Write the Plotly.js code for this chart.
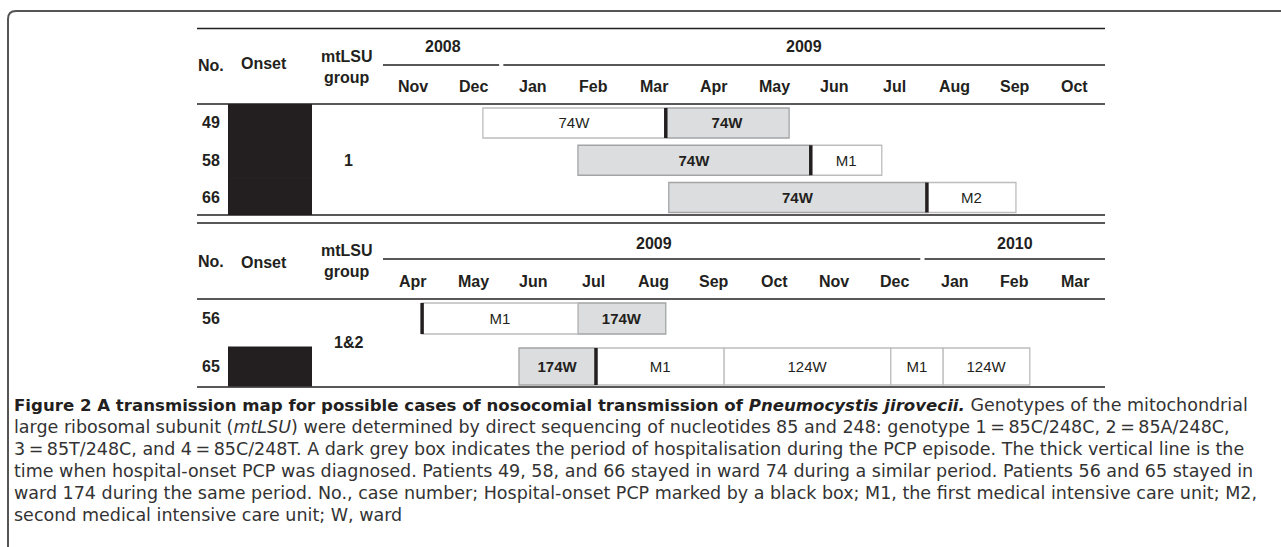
<!DOCTYPE html>
<html><head><meta charset="utf-8">
<script src="https://cdn.plot.ly/plotly-3.0.1.min.js"></script>
<style>html,body{margin:0;padding:0;background:#fff;overflow:hidden}#chart{width:1281px;height:547px}</style>
</head><body><div id="chart"></div>
<script>
// ---------- DATA ----------
// month index: 0 = Nov 2008, 1 = Dec 2008, 2 = Jan 2009, ...
const monthLabels = ['Jan','Feb','Mar','Apr','May','Jun','Jul','Aug','Sep','Oct','Nov','Dec'];
const table1Window = [0, 12];   // Nov 2008 - Oct 2009
const table2Window = [5, 17];   // Apr 2009 - Mar 2010

const table1Cases = ['49', '58', '66'];
const table1Onset = [true, true, true];
const table1Group = '1';
const table2Cases = ['56', '65'];
const table2Onset = [false, true];
const table2Group = '1&2';

const stayCase  = ['49', '49', '58', '58', '66', '66', '56', '56', '65', '65', '65', '65', '65'];
const stayStart = [1.66, 4.70, 3.24, 7.11, 4.75, 9.04, 5.65, 8.24, 7.26, 8.54, 10.67, 13.44, 14.31];
const stayEnd   = [4.70, 6.75, 7.11, 8.29, 9.04, 10.52, 8.24, 9.70, 8.54, 10.67, 13.44, 14.31, 15.75];
const stayLabel = ['74W', '74W', '74W', 'M1', '74W', 'M2', 'M1', '174W', '174W', 'M1', '124W', 'M1', '124W'];
const stayPcp   = [false, true, true, false, true, false, false, true, true, false, false, false, false];

const diagCase  = ['49', '58', '66', '56', '65'];
const diagMonth = [4.70, 7.11, 9.04, 5.65, 8.54];

const captionTitle = 'Figure 2 A transmission map for possible cases of nosocomial transmission of <i>Pneumocystis jirovecii.</i>';
const captionLines = [
  ' Genotypes of the mitochondrial',
  'large ribosomal subunit (<i>mtLSU</i>) were determined by direct sequencing of nucleotides 85 and 248: genotype 1\u2009=\u200985C/248C, 2\u2009=\u200985A/248C,',
  '3\u2009=\u200985T/248C, and 4\u2009=\u200985C/248T. A dark grey box indicates the period of hospitalisation during the PCP episode. The thick vertical line is the',
  'time when hospital-onset PCP was diagnosed. Patients 49, 58, and 66 stayed in ward 74 during a similar period. Patients 56 and 65 stayed in',
  'ward 174 during the same period. No., case number; Hospital-onset PCP marked by a black box; M1, the first medical intensive care unit; M2,',
  'second medical intensive care unit; W, ward'
];

// ---------- LAYOUT HELPERS ----------
const W = 1281, H = 547;
const px = x => x / W;
const py = y => 1 - y / H;
const INK = '#231f20';
const HEAD = 'Liberation Sans, Arial, Helvetica, sans-serif';
const CAP = 'DejaVu Sans, Open Sans, sans-serif';
const CAP_SIZE = 17.5;

const tables = [
  {cases: table1Cases, onset: table1Onset, group: table1Group, win: table1Window,
   xa: 'x', ya: 'y', rowH: [0.805, 0.805, 0.805], onsetW: 1.0,
   top: 28.5, yearY: 47, yearLineY: 65, monthY: 86, headBottom: 104, bottom: 215,
   noY: 65, onsetY: 64, mt1Y: 57, mt2Y: 77},
  {cases: table2Cases, onset: table2Onset, group: table2Group, win: table2Window,
   xa: 'x2', ya: 'y2', rowH: [0.646, 0.771], onsetW: 0.8125,
   top: 223, yearY: 243, yearLineY: 259, monthY: 281, headBottom: 299, bottom: 387,
   noY: 261, onsetY: 263, mt1Y: 250, mt2Y: 271}
];

const traces = [];
const annotations = [];
const shapes = [];

function ann(text, x, y, opts) {
  return Object.assign({text: text, x: x, y: y, xref: 'paper', yref: 'paper', showarrow: false,
    xanchor: 'center', yanchor: 'middle', font: {family: HEAD, size: 16, color: INK, weight: 700}}, opts || {});
}
function hline(y, x0, x1) {
  return {type: 'line', xref: 'paper', yref: 'paper', x0: px(x0), x1: px(x1), y0: py(y), y1: py(y),
    line: {color: INK, width: 1.5}};
}

const TL = 197, TR = 1105;
tables.forEach(t => {
  [t.top, t.headBottom, t.bottom].forEach(y => shapes.push(hline(y, TL, TR)));
  annotations.push(ann('No.', px(211), py(t.noY)));
  annotations.push(ann('Onset', px(264), py(t.onsetY)));
  annotations.push(ann('mtLSU', px(347), py(t.mt1Y)));
  annotations.push(ann('group', px(347), py(t.mt2Y)));
  for (let m = t.win[0]; m < t.win[1]; m++) {
    annotations.push(ann(monthLabels[(m + 10) % 12], m + 0.5, py(t.monthY), {xref: t.xa}));
  }
  const y0 = 2008 + Math.floor((t.win[0] + 10) / 12);
  const y1 = 2008 + Math.floor((t.win[1] - 1 + 10) / 12);
  for (let yr = y0; yr <= y1; yr++) {
    const s = Math.max(t.win[0], (yr - 2008) * 12 - 10);
    const e = Math.min(t.win[1], (yr - 2008) * 12 + 2);
    annotations.push(ann(String(yr), (s + e) / 2, py(t.yearY), {xref: t.xa}));
    shapes.push({type: 'line', xref: t.xa, yref: 'paper', x0: s, x1: e < t.win[1] ? e - 0.07 : e,
      y0: py(t.yearLineY), y1: py(t.yearLineY), line: {color: INK, width: 1.5}});
  }
  t.cases.forEach((c, i) => {
    annotations.push(ann(c, px(211), i, {yref: t.ya}));
  });
  annotations.push(ann(t.group, px(348), (t.cases.length - 1) / 2, {yref: t.ya}));

  const oy = [], ow = [];
  t.cases.forEach((c, i) => { if (t.onset[i]) { oy.push(i); ow.push(t.onsetW); } });
  traces.push({type: 'bar', orientation: 'h', xaxis: 'x3', yaxis: t.ya, y: oy, x: oy.map(() => 1),
    base: oy.map(() => 0), width: ow, marker: {color: INK, line: {color: INK, width: 1}},
    hoverinfo: 'skip', showlegend: false});

  [true, false].forEach(pcp => {
    const ys = [], bs = [], xs = [], tx = [], ws = [];
    stayCase.forEach((c, k) => {
      const i = t.cases.indexOf(c);
      if (i < 0 || stayPcp[k] !== pcp) return;
      ys.push(i); bs.push(stayStart[k]); xs.push(stayEnd[k] - stayStart[k]);
      tx.push(stayLabel[k]); ws.push(t.rowH[i]);
    });
    traces.push({type: 'bar', orientation: 'h', xaxis: t.xa, yaxis: t.ya, y: ys, base: bs, x: xs,
      width: ws, text: tx, textposition: 'inside', insidetextanchor: 'middle', textangle: 0,
      constraintext: 'none',
      textfont: {family: HEAD, size: 15, color: INK, weight: pcp ? 700 : 400},
      marker: {color: pcp ? '#dcddde' : '#ffffff', line: {color: pcp ? '#a3a4a6' : '#bdbdbd', width: 1.3}},
      hoverinfo: 'skip', showlegend: false});
  });

  const lx = [], ly = [];
  diagCase.forEach((c, k) => {
    const i = t.cases.indexOf(c);
    if (i < 0) return;
    lx.push(diagMonth[k], diagMonth[k], null);
    ly.push(i - t.rowH[i] / 2, i + t.rowH[i] / 2, null);
  });
  traces.push({type: 'scatter', mode: 'lines', xaxis: t.xa, yaxis: t.ya, x: lx, y: ly,
    line: {color: INK, width: 3.5}, hoverinfo: 'skip', showlegend: false});
});

captionLines.forEach((txt, i) => {
  const full = i === 0
    ? `<span style="font-size:16.6px;fill:${INK}"><b>${captionTitle}</b></span>${txt}`
    : txt;
  annotations.push(ann(full, px(13), py(405 + i * 22), {xanchor: 'left', borderpad: 0,
    font: {family: CAP, size: CAP_SIZE, color: '#333333', weight: 400}}));
});

shapes.push({type: 'path', xref: 'paper', yref: 'paper',
  path: `M ${px(8)} ${py(547)} L ${px(8)} ${py(19)} Q ${px(8)} ${py(11)} ${px(16)} ${py(11)} L ${px(1281)} ${py(11)}`,
  line: {color: '#555555', width: 2}});

const axBase = {visible: false, fixedrange: true, showgrid: false, zeroline: false};
const layout = {
  width: W, height: H, margin: {l: 0, r: 0, t: 0, b: 0},
  paper_bgcolor: '#ffffff', plot_bgcolor: 'rgba(0,0,0,0)',
  barmode: 'overlay', showlegend: false,
  xaxis:  Object.assign({}, axBase, {domain: [px(383), px(1105)], range: table1Window, anchor: 'y'}),
  xaxis2: Object.assign({}, axBase, {domain: [px(383), px(1105)], range: table2Window, anchor: 'y2'}),
  xaxis3: Object.assign({}, axBase, {domain: [px(228), px(312)], range: [0, 1], anchor: 'y'}),
  yaxis:  Object.assign({}, axBase, {domain: [py(215), py(104)], range: [2.47, -0.51], anchor: 'x'}),
  yaxis2: Object.assign({}, axBase, {domain: [py(387), py(299)], range: [1.427, -0.406], anchor: 'x2'}),
  shapes: shapes, annotations: annotations
};

Plotly.newPlot('chart', traces, layout, {staticPlot: true, displayModeBar: false});
</script>
</body></html>
